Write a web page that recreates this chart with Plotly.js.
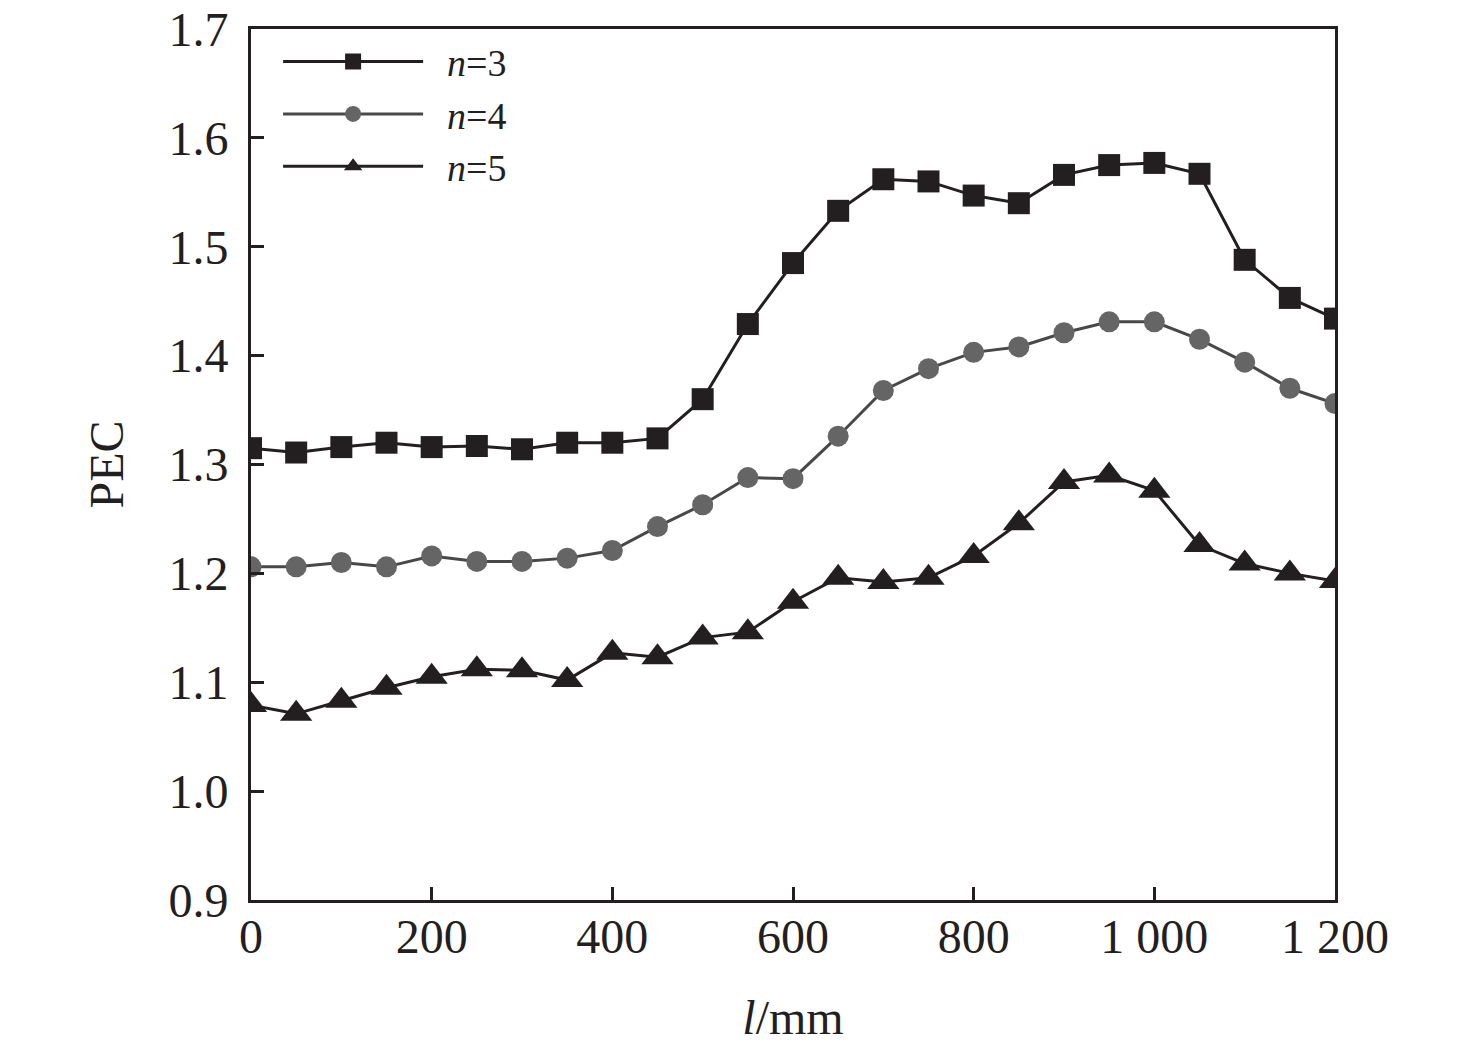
<!DOCTYPE html>
<html>
<head>
<meta charset="utf-8">
<script src="https://cdn.plot.ly/plotly-3.0.1.min.js"></script>
<style>
  html, body { margin: 0; padding: 0; background: #ffffff; }
  #chart { width: 1476px; height: 1052px; }
</style>
</head>
<body>
<div id="chart"></div>
<script>
// Data
const lengths = [0, 50, 100, 150, 200, 250, 300, 350, 400, 450, 500, 550, 600,
                 650, 700, 750, 800, 850, 900, 950, 1000, 1050, 1100, 1150, 1200];

const pecN3 = [1.315, 1.311, 1.316, 1.320, 1.316, 1.317, 1.314, 1.320, 1.320, 1.324, 1.360, 1.429, 1.485,
               1.533, 1.562, 1.560, 1.547, 1.540, 1.566, 1.575, 1.577, 1.567, 1.488, 1.453, 1.434];

const pecN4 = [1.206, 1.206, 1.210, 1.206, 1.216, 1.211, 1.211, 1.214, 1.221, 1.243, 1.263, 1.288, 1.287,
               1.326, 1.368, 1.388, 1.403, 1.408, 1.421, 1.431, 1.431, 1.415, 1.394, 1.370, 1.356];

const pecN5 = [1.079, 1.071, 1.083, 1.095, 1.105, 1.112, 1.111, 1.102, 1.127, 1.123, 1.141, 1.146, 1.174,
               1.196, 1.192, 1.196, 1.216, 1.246, 1.284, 1.290, 1.276, 1.226, 1.209, 1.200, 1.193];

const seriesNames = ['\u00a0\u00a0<i>n</i>=3', '\u00a0\u00a0<i>n</i>=4', '\u00a0\u00a0<i>n</i>=5'];
const xTickVals = [0, 200, 400, 600, 800, 1000, 1200];
const xTickText = ['0', '200', '400', '600', '800', '1 000', '1 200'];

const FONT = '"Liberation Serif", "Times New Roman", serif';
const INK = '#231f20';

const traces = [
  {
    x: lengths, y: pecN3, name: seriesNames[0], type: 'scatter', mode: 'lines+markers',
    line: { color: INK, width: 3 },
    marker: { symbol: 'square', size: 22, color: INK }
  },
  {
    x: lengths, y: pecN4, name: seriesNames[1], type: 'scatter', mode: 'lines+markers',
    line: { color: '#484848', width: 3 },
    marker: { symbol: 'circle', size: 21, color: '#656565' }
  },
  {
    x: lengths, y: pecN5, name: seriesNames[2], type: 'scatter', mode: 'lines+markers',
    line: { color: INK, width: 3 },
    marker: { symbol: 'triangle-up', size: 28, color: INK }
  }
];

const layout = {
  width: 1476,
  height: 1052,
  paper_bgcolor: '#ffffff',
  plot_bgcolor: '#ffffff',
  margin: { l: 251, r: 141, t: 29, b: 152, pad: 0 },
  font: { family: FONT, color: INK, size: 46 },
  showlegend: true,
  legend: {
    x: 0.025, y: 0.9985, xanchor: 'left', yanchor: 'top',
    bgcolor: 'rgba(0,0,0,0)', borderwidth: 0,
    font: { family: FONT, size: 38, color: INK },
    itemwidth: 140,
    tracegroupgap: 0
  },
  xaxis: {
    range: [0, 1200],
    tickmode: 'array', tickvals: xTickVals, ticktext: xTickText,
    ticks: 'inside', ticklen: 13, tickwidth: 3, tickcolor: INK,
    showline: true, linewidth: 3, linecolor: INK, mirror: true,
    showgrid: false, zeroline: false,
    tickfont: { family: FONT, size: 48, color: INK },
    ticklabelstandoff: -8,
    title: { text: '<i>l</i>/mm', font: { family: FONT, size: 48, color: INK }, standoff: 39 }
  },
  yaxis: {
    range: [0.9, 1.7],
    tickmode: 'linear', tick0: 0.9, dtick: 0.1, tickformat: '.1f',
    ticks: 'inside', ticklen: 13, tickwidth: 3, tickcolor: INK,
    showline: true, linewidth: 3, linecolor: INK, mirror: true,
    showgrid: false, zeroline: false,
    tickfont: { family: FONT, size: 48, color: INK },
    ticklabelstandoff: 10,
    title: { text: 'PEC', font: { family: FONT, size: 48, color: INK }, standoff: 30 }
  }
};

Plotly.newPlot('chart', traces, layout, { displayModeBar: false, staticPlot: true });
</script>
</body>
</html>
